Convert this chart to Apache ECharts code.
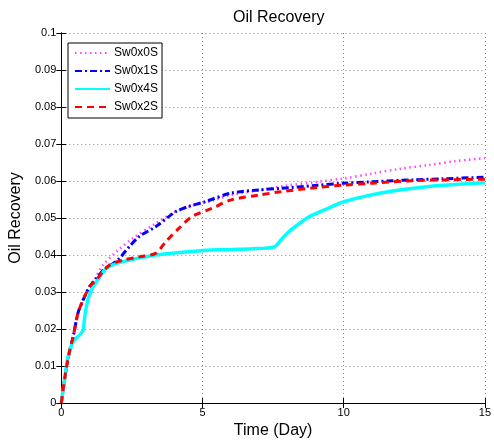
<!DOCTYPE html>
<html>
<head>
<meta charset="utf-8">
<script src="https://cdn.jsdelivr.net/npm/echarts@6/dist/echarts.min.js"></script>
<style>html,body{margin:0;padding:0;background:#fff}#c{width:494px;height:446px}</style>
</head>
<body>
<div id="c"></div>
<script>
// Tick labels
const xTicks = [0, 5, 10, 15];
const yTicks = [0, 0.01, 0.02, 0.03, 0.04, 0.05, 0.06, 0.07, 0.08, 0.09, 0.1];
const seriesNames = ['Sw0x0S', 'Sw0x1S', 'Sw0x4S', 'Sw0x2S'];

// Sw0x0S
const t0 = [0, 0.13, 0.3, 0.42, 0.59, 0.77, 1.0, 1.2, 1.48, 1.95, 2.53, 3.35, 3.93, 4.5, 5.44, 6.0, 7.0, 8.0, 9.0, 10.0, 11.0, 12.0, 13.0, 14.0, 15.0];
const sw0x0S = [0, 0.0071, 0.0143, 0.018, 0.0245, 0.028, 0.0316, 0.0338, 0.0373, 0.0409, 0.0445, 0.0486, 0.0513, 0.053, 0.0549, 0.0562, 0.0575, 0.0588, 0.0597, 0.0607, 0.062, 0.0633, 0.0643, 0.0654, 0.0662];
// Sw0x1S
const t1 = [0, 0.13, 0.3, 0.42, 0.59, 0.77, 1.0, 1.2, 1.5, 1.8, 2.06, 2.41, 2.76, 3.35, 4.05, 4.5, 5.09, 6.0, 7.0, 7.77, 9.0, 10.0, 11.0, 12.44, 13.5, 15.0];
const sw0x1S = [0, 0.0071, 0.0143, 0.0179, 0.0243, 0.0278, 0.0314, 0.0332, 0.036, 0.0375, 0.0391, 0.0423, 0.045, 0.0477, 0.0517, 0.0531, 0.0544, 0.0567, 0.0576, 0.058, 0.0588, 0.0594, 0.0598, 0.0603, 0.0606, 0.061];
// Sw0x4S
const t4 = [0, 0.13, 0.24, 0.42, 0.65, 0.77, 0.83, 0.94, 1.12, 1.29, 1.6, 2.18, 3.35, 4.86, 5.56, 6.78, 7.54, 7.77, 8.0, 8.36, 8.82, 9.5, 10.0, 11.27, 13.02, 15.0];
const sw0x4S = [0, 0.0071, 0.0125, 0.0166, 0.0184, 0.0197, 0.0233, 0.0278, 0.0314, 0.0332, 0.0364, 0.0382, 0.04, 0.0411, 0.0414, 0.0417, 0.0422, 0.044, 0.0459, 0.0481, 0.0505, 0.0528, 0.0544, 0.0567, 0.0585, 0.0595];
// Sw0x2S
const t2 = [0, 0.13, 0.3, 0.42, 0.59, 0.77, 1.0, 1.2, 1.71, 2.18, 2.76, 3.35, 3.7, 4.16, 4.63, 5.33, 6.02, 7.0, 7.77, 9.0, 9.99, 11.0, 12.44, 13.5, 15.0];
const sw0x2S = [0, 0.0071, 0.0143, 0.0179, 0.0243, 0.0278, 0.0314, 0.033, 0.0373, 0.0386, 0.0395, 0.0405, 0.0436, 0.0472, 0.0504, 0.0526, 0.0549, 0.0562, 0.0571, 0.0582, 0.0589, 0.0594, 0.0601, 0.0603, 0.0605];

const zip = (a, b) => a.map((v, i) => [v, b[i]]);
const FONT = 'Liberation Sans, Arial, sans-serif';

const chart = echarts.init(document.getElementById('c'), null, {renderer: 'canvas'});
const baseX = {
  type: 'value', min: xTicks[0], max: xTicks[xTicks.length - 1], interval: 5,
  axisLine: {show: true, lineStyle: {color: '#000', width: 1}},
  axisTick: {show: true, inside: true, length: 5, lineStyle: {color: '#000'}},
  splitLine: {show: false}
};
const baseY = {
  type: 'value', min: yTicks[0], max: yTicks[yTicks.length - 1], interval: 0.01,
  axisLine: {show: true, lineStyle: {color: '#000', width: 1}},
  axisTick: {show: true, inside: true, length: 5, lineStyle: {color: '#000'}},
  splitLine: {show: false}
};
chart.setOption({
  animation: false,
  backgroundColor: '#fff',
  title: {
    text: 'Oil Recovery', left: 228, top: 5,
    textStyle: {fontFamily: FONT, fontSize: 16, fontWeight: 'normal', color: '#000'}
  },
  grid: {left: 61, right: 4, top: 33, bottom: 43, containLabel: false},
  legend: {
    data: seriesNames, orient: 'vertical', left: 68, top: 43,
    backgroundColor: '#fff', borderColor: '#000', borderWidth: 1, borderRadius: 0,
    padding: [4, 4, 5, 6], itemGap: 6, itemWidth: 35, itemHeight: 12,
    itemStyle: {opacity: 0},
    textStyle: {fontFamily: FONT, fontSize: 12, color: '#000', padding: [0, 0, 0, -1]}
  },
  xAxis: [
    Object.assign({}, baseX, {
      position: 'bottom', name: 'Time (Day)', nameLocation: 'middle', nameGap: 20,
      nameTextStyle: {fontFamily: FONT, fontSize: 16, color: '#000'},
      axisLabel: {show: true, margin: 4, fontFamily: FONT, fontSize: 11, color: '#000'},
      splitLine: {show: true, lineStyle: {color: '#888', type: [1, 3], width: 1}}
    }),
    Object.assign({}, baseX, {position: 'top', axisLabel: {show: false}})
  ],
  yAxis: [
    Object.assign({}, baseY, {
      position: 'left', name: 'Oil Recovery', nameLocation: 'middle', nameGap: 32,
      nameTextStyle: {fontFamily: FONT, fontSize: 16, color: '#000'},
      axisLabel: {show: true, margin: 5, fontFamily: FONT, fontSize: 11, color: '#000',
        formatter: v => String(+v.toFixed(2))},
      splitLine: {show: true, lineStyle: {color: '#888', type: [1, 3], width: 1}}
    }),
    Object.assign({}, baseY, {position: 'right', axisLabel: {show: false}})
  ],
  series: [
    {name: seriesNames[0], type: 'line', data: zip(t0, sw0x0S), showSymbol: false, symbol: 'none', smooth: 0.3,
     lineStyle: {color: '#ff44ff', width: 2.5, type: [1.5, 3.5]}, itemStyle: {color: '#ff44ff'}},
    {name: seriesNames[1], type: 'line', data: zip(t1, sw0x1S), showSymbol: false, symbol: 'none', smooth: 0.3,
     lineStyle: {color: '#0000ff', width: 3, type: [7, 3, 2, 3]}, itemStyle: {color: '#0000ff'}},
    {name: seriesNames[2], type: 'line', data: zip(t4, sw0x4S), showSymbol: false, symbol: 'none', smooth: 0.3,
     lineStyle: {color: '#00ffff', width: 3.5, type: 'solid'}, itemStyle: {color: '#00ffff'}},
    {name: seriesNames[3], type: 'line', data: zip(t2, sw0x2S), showSymbol: false, symbol: 'none', smooth: 0.3,
     lineStyle: {color: '#ff0000', width: 3, type: [7, 5]}, itemStyle: {color: '#ff0000'}}
  ]
});
</script>
</body>
</html>
